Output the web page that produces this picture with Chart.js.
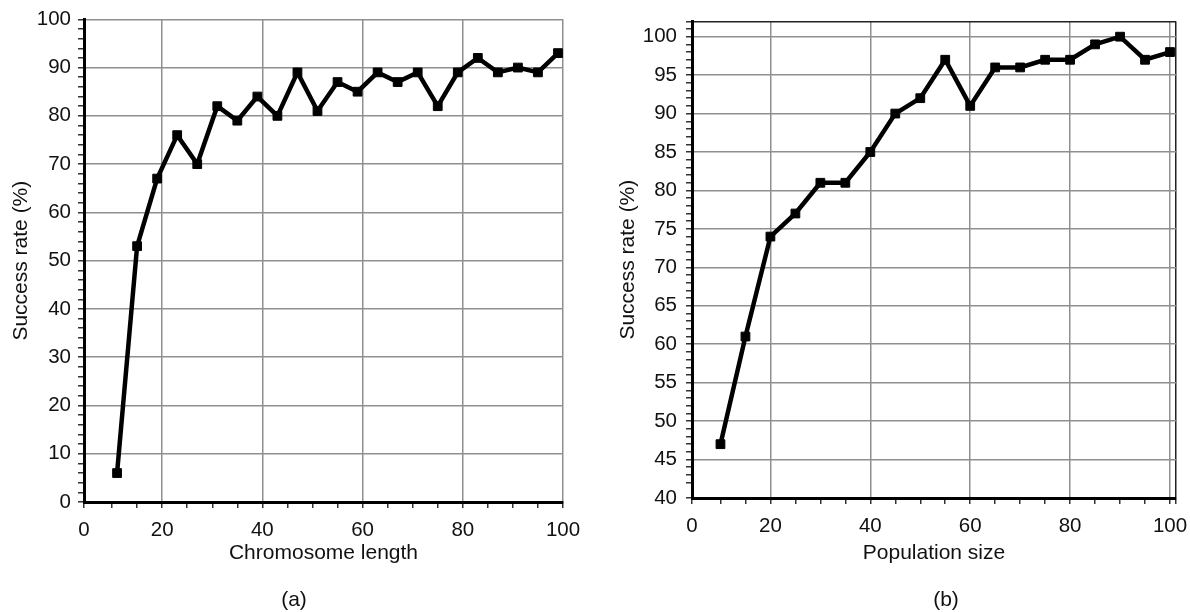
<!DOCTYPE html>
<html>
<head>
<meta charset="utf-8">
<script src="https://cdn.jsdelivr.net/npm/chart.js@4.4.1/dist/chart.umd.min.js"></script>
<style>
  body {
    margin: 0;
    background: #fff;
    width: 1190px;
    height: 612px;
    overflow: hidden;
    position: relative;
    font-family: "Liberation Sans", Arial, sans-serif;
  }
  canvas { position: absolute; top: 0; }
  #chartA { left: 0; }
  #chartB { left: 595px; }
  .caption {
    position: absolute;
    top: 588px;
    width: 60px;
    text-align: center;
    font-size: 21px;
    line-height: 22px;
    color: #111;
  }
</style>
</head>
<body>
<canvas id="chartA" width="595" height="612"></canvas>
<canvas id="chartB" width="595" height="612"></canvas>
<div class="caption" style="left:264px">(a)</div>
<div class="caption" style="left:916px">(b)</div>
<script>
// (a) success rate against chromosome length
const chromosomeLength = [11, 15, 19, 23, 27, 31, 35, 39, 43, 47, 51, 55, 59, 63, 67, 71, 75, 79, 83, 87, 91, 95, 99];
const successByLength = [6, 53, 67, 76, 70, 82, 79, 84, 80, 89, 81, 87, 85, 89, 87, 89, 82, 89, 92, 89, 90, 89, 93];

// (b) success rate against population size
const populationSize = [10, 15, 20, 25, 30, 35, 40, 45, 50, 55, 60, 65, 70, 75, 80, 85, 90, 95, 100];
const successByPopulation = [47, 61, 74, 77, 81, 81, 85, 90, 92, 97, 91, 96, 96, 97, 97, 99, 100, 97, 98];

// labelled ticks (the first x label "0" sits on the left end of each axis)
const xTickLabels = [20, 40, 60, 80, 100];
const yTickLabelsA = [0, 10, 20, 30, 40, 50, 60, 70, 80, 90, 100];
const yTickLabelsB = [40, 45, 50, 55, 60, 65, 70, 75, 80, 85, 90, 95, 100];

const TICK_FONT = { family: '"Liberation Sans", Arial, sans-serif', size: 20.5 };
const TITLE_FONT = { family: '"Liberation Sans", Arial, sans-serif', size: 21 };
const INK = '#111';
const GRID = '#8f8f8f';
const CLEAR = 'rgba(0,0,0,0)';

// every minor step between min and max, plus both ends
function tickValues(min, max, step) {
  const values = [min];
  for (let v = Math.ceil(min / step) * step; v < max - 0.01; v += step) {
    if (v - min > 1) values.push(v);
  }
  values.push(max);
  return values;
}

function makeChart(id, cfg) {
  const gridColor = (labels, darkMax) => (ctx) => {
    if (!ctx.tick) return CLEAR;
    const v = ctx.tick.value;
    if (v === cfg[darkMax]) return cfg.boxed ? '#222' : GRID;
    if (ctx.index === 0) return CLEAR;
    return labels.includes(v) ? GRID : CLEAR;
  };

  return new Chart(document.getElementById(id), {
    type: 'line',
    data: {
      datasets: [{
        data: cfg.x.map((x, i) => ({ x, y: cfg.y[i] })),
        borderColor: '#000',
        backgroundColor: '#000',
        borderWidth: 4.5,
        pointStyle: 'rect',
        pointRadius: 6.2,
        pointBorderWidth: 1,
        tension: 0
      }]
    },
    options: {
      responsive: false,
      animation: false,
      devicePixelRatio: 1,
      layout: { padding: cfg.padding },
      plugins: { legend: { display: false }, tooltip: { enabled: false } },
      scales: {
        x: {
          type: 'linear',
          min: cfg.xMin,
          max: cfg.xMax,
          afterBuildTicks: (s) => { s.ticks = tickValues(cfg.xMin, cfg.xMax, 5).map(value => ({ value })); },
          afterFit: (s) => { s.height = cfg.xAxisHeight; },
          border: { color: '#000', width: 3 },
          grid: { color: gridColor(xTickLabels, 'xMax'), lineWidth: 1.5, tickColor: '#333', tickWidth: 1.5, tickLength: 6 },
          ticks: {
            autoSkip: false, maxRotation: 0, minRotation: 0, padding: 10, color: INK, font: TICK_FONT,
            callback: (v, i) => i === 0 ? '0' : (xTickLabels.includes(v) ? String(v) : '')
          },
          title: { display: true, text: cfg.xTitle, color: INK, font: TITLE_FONT, padding: { top: 0, bottom: 4 } }
        },
        y: {
          type: 'linear',
          min: cfg.yMin,
          max: cfg.yMax,
          afterBuildTicks: (s) => { s.ticks = tickValues(cfg.yMin, cfg.yMax, cfg.yStep).map(value => ({ value })); },
          afterFit: (s) => { s.width = cfg.yAxisWidth; },
          border: { color: '#000', width: 3 },
          grid: { color: gridColor(cfg.yLabels, 'yMax'), lineWidth: 1.5, tickColor: '#333', tickWidth: 1.5, tickLength: 6 },
          ticks: {
            autoSkip: false, padding: cfg.yTickPad, color: INK, font: TICK_FONT,
            callback: (v) => cfg.yLabels.includes(v) ? String(v) : ''
          },
          title: { display: true, text: 'Success rate (%)', color: INK, font: TITLE_FONT, padding: { top: cfg.yTitlePad, bottom: 0 } }
        }
      }
    }
  });
}

makeChart('chartA', {
  x: chromosomeLength, y: successByLength,
  xMin: 4.4, xMax: 100, yMin: 0, yMax: 100, yStep: 2,
  yLabels: yTickLabelsA, boxed: false,
  xTitle: 'Chromosome length',
  padding: { left: 0, top: 16, right: 32, bottom: 42 },
  xAxisHeight: 68, yAxisWidth: 84, yTickPad: 7, yTitlePad: 9
});

makeChart('chartB', {
  x: populationSize, y: successByPopulation,
  xMin: 4.3, xMax: 101.2, yMin: 40, yMax: 102, yStep: 1,
  yLabels: yTickLabelsB, boxed: true,
  xTitle: 'Population size',
  padding: { left: 0, top: 12, right: 14, bottom: 42 },
  xAxisHeight: 72, yAxisWidth: 97, yTickPad: 9, yTitlePad: 21
});
</script>
</body>
</html>
